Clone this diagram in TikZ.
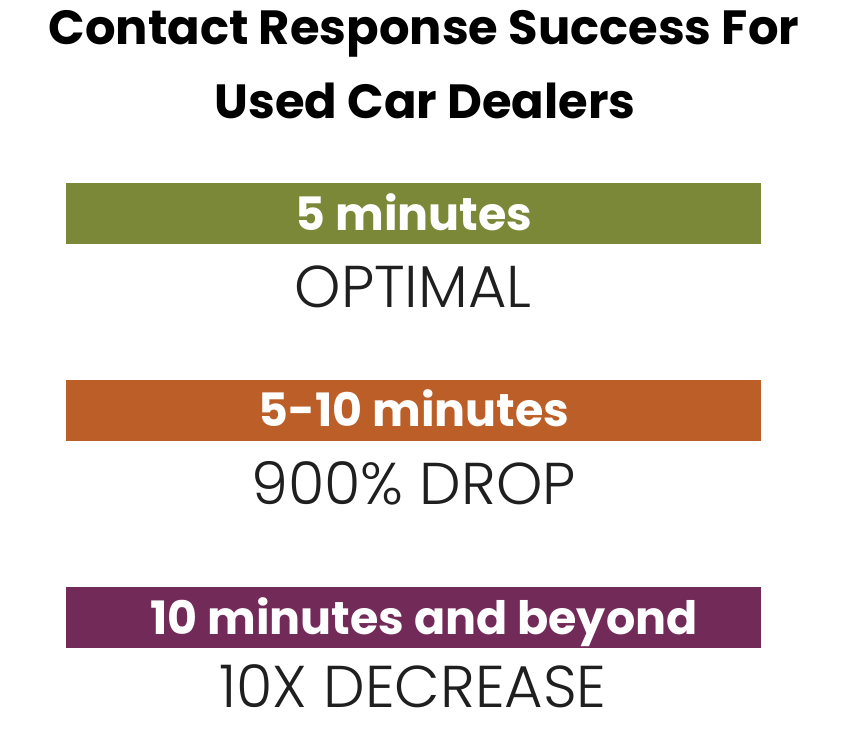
\documentclass[tikz,border=0pt]{standalone}
\usepackage{fontspec}
\setmainfont{Poppins}
\newfontfamily\lightfont{Poppins Light}
\usetikzlibrary{positioning}
\definecolor{bargreen}{HTML}{7A8837}
\definecolor{barorange}{HTML}{BC5E28}
\definecolor{barpurple}{HTML}{722A59}

\begin{document}
\begin{tikzpicture}[x=1pt,y=-1pt,
  bar/.style={minimum width=695pt,minimum height=61pt,inner sep=0pt},
  bartext/.style={anchor=base,text=white,font=\bfseries\fontsize{46}{46}\selectfont},
  result/.style={anchor=base,text=black!88,font=\lightfont\fontsize{59}{59}\selectfont}]
  \useasboundingbox (0,0) rectangle (847,742);
% Title
  \node[anchor=base,font=\bfseries\fontsize{48}{48}\selectfont] (title1) at (424,44) {Contact Response Success For};
  \node[anchor=base,font=\bfseries\fontsize{48}{48}\selectfont] (title2) at (425,118) {Used Car Dealers};
% Bars
  \node[bar,fill=bargreen] (fast) at (413.5,213.5) {};
  \node[bar,fill=barorange] (mid) at (413.5,410) {};
  \node[bar,fill=barpurple] (slow) at (413.5,617.5) {};
  \node[bartext] (fastlbl) at (414,230) {5 minutes};
  \node[bartext] (midlbl) at (414,426) {5-10 minutes};
  \node[bartext] (slowlbl) at (424,634) {10 minutes and beyond};
% Results
  \node[result] (fastres) at (413,307) {OPTIMAL};
  \node[result] (midres) at (413.5,504) {900\% DROP};
  \node[result] (slowres) at (413,707) {10X DECREASE};
\end{tikzpicture}
\end{document}
